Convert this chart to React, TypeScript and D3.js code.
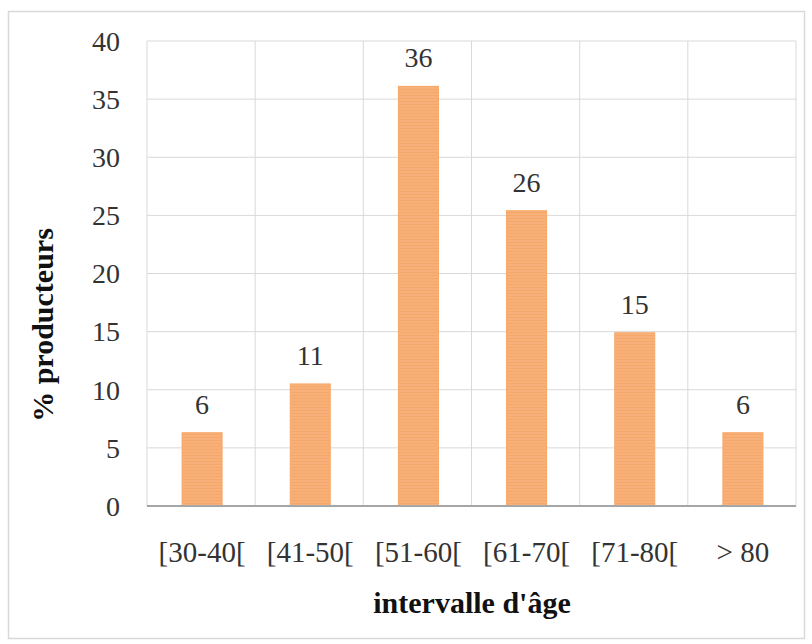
import React from "react";
import * as d3 from "d3";

const categories = ["[30-40[", "[41-50[", "[51-60[", "[61-70[", "[71-80[", "> 80"];
const values = [6.3, 10.5, 36.1, 25.4, 14.9, 6.3];
const labels = ["6", "11", "36", "26", "15", "6"];
const yTicks = [0, 5, 10, 15, 20, 25, 30, 35, 40];

const W = 812;
const H = 644;
const plot = { left: 147, right: 796, top: 41, bottom: 506 };
const font = "'Liberation Serif', 'DejaVu Serif', serif";

export default function App() {
  const x = d3.scaleBand<string>().domain(categories).range([plot.left, plot.right]).paddingInner(0).paddingOuter(0);
  const y = d3.scaleLinear().domain([0, 40]).range([plot.bottom, plot.top]);
  const bw = 40;
  const ts = { fontFamily: font };

  return (
    <svg width={W} height={H} style={{ position: "absolute", left: 0, top: 0, background: "#fff" }}>
      <defs>
        <pattern id="stripes" width="4" height="3" patternUnits="userSpaceOnUse">
          <rect width="4" height="3" fill="#F8B07A" />
          <rect width="4" height="1" y="2" fill="#F5A868" />
        </pattern>
      </defs>
      <rect x={8.5} y={11.5} width={796} height={627} fill="#fff" stroke="#d9d9d9" strokeWidth={1.5} />
      {yTicks.map((t) => (
        <line key={"h" + t} x1={plot.left} x2={plot.right} y1={y(t)} y2={y(t)} stroke="#d9d9d9" strokeWidth={1} />
      ))}
      {categories.map((c) => (
        <line key={"v" + c} x1={x(c)!} x2={x(c)!} y1={plot.top} y2={plot.bottom} stroke="#d9d9d9" strokeWidth={1} />
      ))}
      <line x1={plot.right} x2={plot.right} y1={plot.top} y2={plot.bottom} stroke="#d9d9d9" strokeWidth={1} />
      {categories.map((c, i) => {
        const cx = x(c)! + x.bandwidth() / 2 + 1;
        return (
          <g key={"b" + c}>
            <rect x={cx - bw / 2} y={y(values[i])} width={bw} height={plot.bottom - y(values[i])} fill="url(#stripes)" stroke="#F6A765" strokeWidth={1} />
            <text x={cx} y={y(values[i]) - 19} style={ts} textAnchor="middle" fontSize={28} fill="#333">
              {labels[i]}
            </text>
          </g>
        );
      })}
      <line x1={plot.left} x2={plot.right} y1={plot.bottom} y2={plot.bottom} stroke="#a6a6a6" strokeWidth={2} />
      {yTicks.map((t) => (
        <text key={"yt" + t} x={120} y={y(t)} dy="0.35em" style={ts} textAnchor="end" fontSize={28} fill="#333">
          {t}
        </text>
      ))}
      {categories.map((c) => (
        <text key={"xt" + c} x={x(c)! + x.bandwidth() / 2 + 1} y={562} style={ts} textAnchor="middle" fontSize={29} fill="#333">
          {c}
        </text>
      ))}
      <text x={472} y={613} style={ts} textAnchor="middle" fontSize={30} fontWeight="bold" fill="#111">
        intervalle d'âge
      </text>
      <text transform={`translate(44, 325) rotate(-90)`} dy="0.3em" style={ts} textAnchor="middle" fontSize={30} fontWeight="bold" fill="#111">
        % producteurs
      </text>
    </svg>
  );
}
